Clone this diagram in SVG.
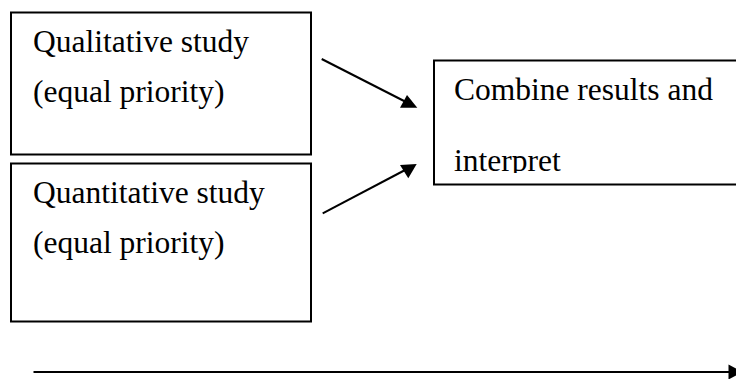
<svg xmlns="http://www.w3.org/2000/svg" width="736" height="379" viewBox="0 0 736 379">
<style>
.box{fill:#fff;stroke:#000;stroke-width:2}
.t{font-family:"Liberation Serif","Times New Roman",serif;font-size:31.5px;fill:#000}
.ln{stroke:#000;stroke-width:2;fill:none}
.hd{fill:#000;stroke:none}
</style>
<defs>
<clipPath id="c3"><rect x="434" y="60" width="302" height="113"/></clipPath>
</defs>
<rect width="736" height="379" fill="#fff"/>
<g id="qual">
<rect class="box" x="11" y="12.5" width="300" height="142"/>
<text class="t" x="33" y="51.5">Qualitative study</text>
<text class="t" x="33" y="101.5">(equal priority)</text>
</g>
<g id="quant">
<rect class="box" x="11" y="163.5" width="300" height="158"/>
<text class="t" x="33" y="203.3">Quantitative study</text>
<text class="t" x="33" y="253.3">(equal priority)</text>
</g>
<g id="combine">
<rect class="box" x="434" y="60.5" width="320" height="124"/>
<g clip-path="url(#c3)">
<text class="t" x="454" y="100">Combine results and</text>
<text class="t" x="454" y="171">interpret</text>
</g>
</g>
<g id="connectors">
<line class="ln" x1="321.7" y1="59" x2="407" y2="102.5"/>
<polygon class="hd" points="417.3,107.7 400,107.7 407,95"/>
<line class="ln" x1="322.7" y1="213.3" x2="407" y2="169"/>
<polygon class="hd" points="416.7,164 400,165 408.3,178.3"/>
<line class="ln" x1="33.5" y1="372" x2="730" y2="372"/>
<polygon class="hd" points="728.5,364.5 743,372 728.5,379.5"/>
</g>
</svg>
